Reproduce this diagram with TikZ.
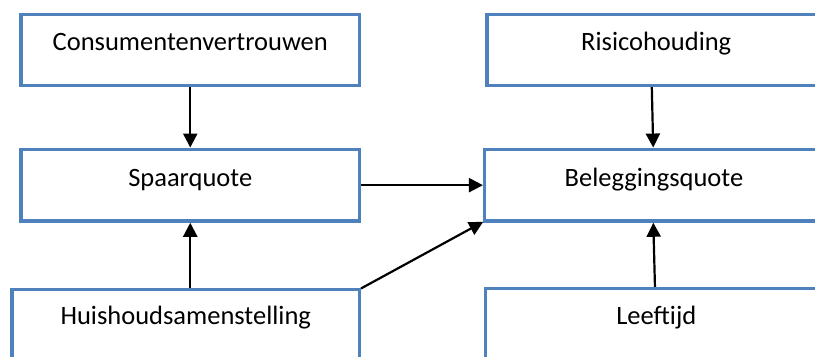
\documentclass[tikz,border=0pt]{standalone}
\usepackage{fontspec}
\setmainfont{Carlito}
\usetikzlibrary{arrows.meta}
\definecolor{boxblue}{RGB}{79,129,189}
\begin{document}
\begin{tikzpicture}[x=1bp,y=-1bp,
  box/.style={draw=boxblue, line width=3.5bp, fill=white, inner sep=0pt, outer sep=0pt,
    anchor=north west, text height=36bp, text depth=35bp, minimum width=338.5bp,
    font=\fontsize{26.5bp}{32bp}\selectfont},
  arr/.style={line width=2.2bp, -{Triangle[length=14bp,width=14bp]},
    shorten >=1.75bp, shorten <=1.75bp}]
\clip (0,0) rectangle (815,356);
\fill[white] (0,0) rectangle (815,356);
\node[box] (c) at (21,14.3) {Consumentenvertrouwen};
\node[box] (r) at (487,14.3) {Risicohouding};
\node[box, text height=36.7bp] (s) at (21,149.3) {Spaarquote};
\node[box, text height=36.7bp] (b) at (484.7,149.3) {Beleggingsquote};
\node[box, text height=35bp, text depth=37bp, minimum width=347.5bp] (h) at (12,289.3) {Huishoudsamenstelling};
\node[box, text height=35.3bp, text depth=37bp, minimum width=342bp] (l) at (485.3,288.7) {Leeftijd};
\draw[arr] (c.south) -- (s.north);
\draw[arr] ([xshift=-4.5bp]r.south) -- ([xshift=-0.7bp]b.north);
\draw[arr] (s.east) -- (s.east -| b.west);
\draw[arr] (h.north -| s.south) -- (s.south);
\draw[arr] (h.north east) -- (b.south west);
\draw[arr] ([xshift=-1.3bp]l.north) -- ([xshift=-0.7bp]b.south);
\end{tikzpicture}
\end{document}
